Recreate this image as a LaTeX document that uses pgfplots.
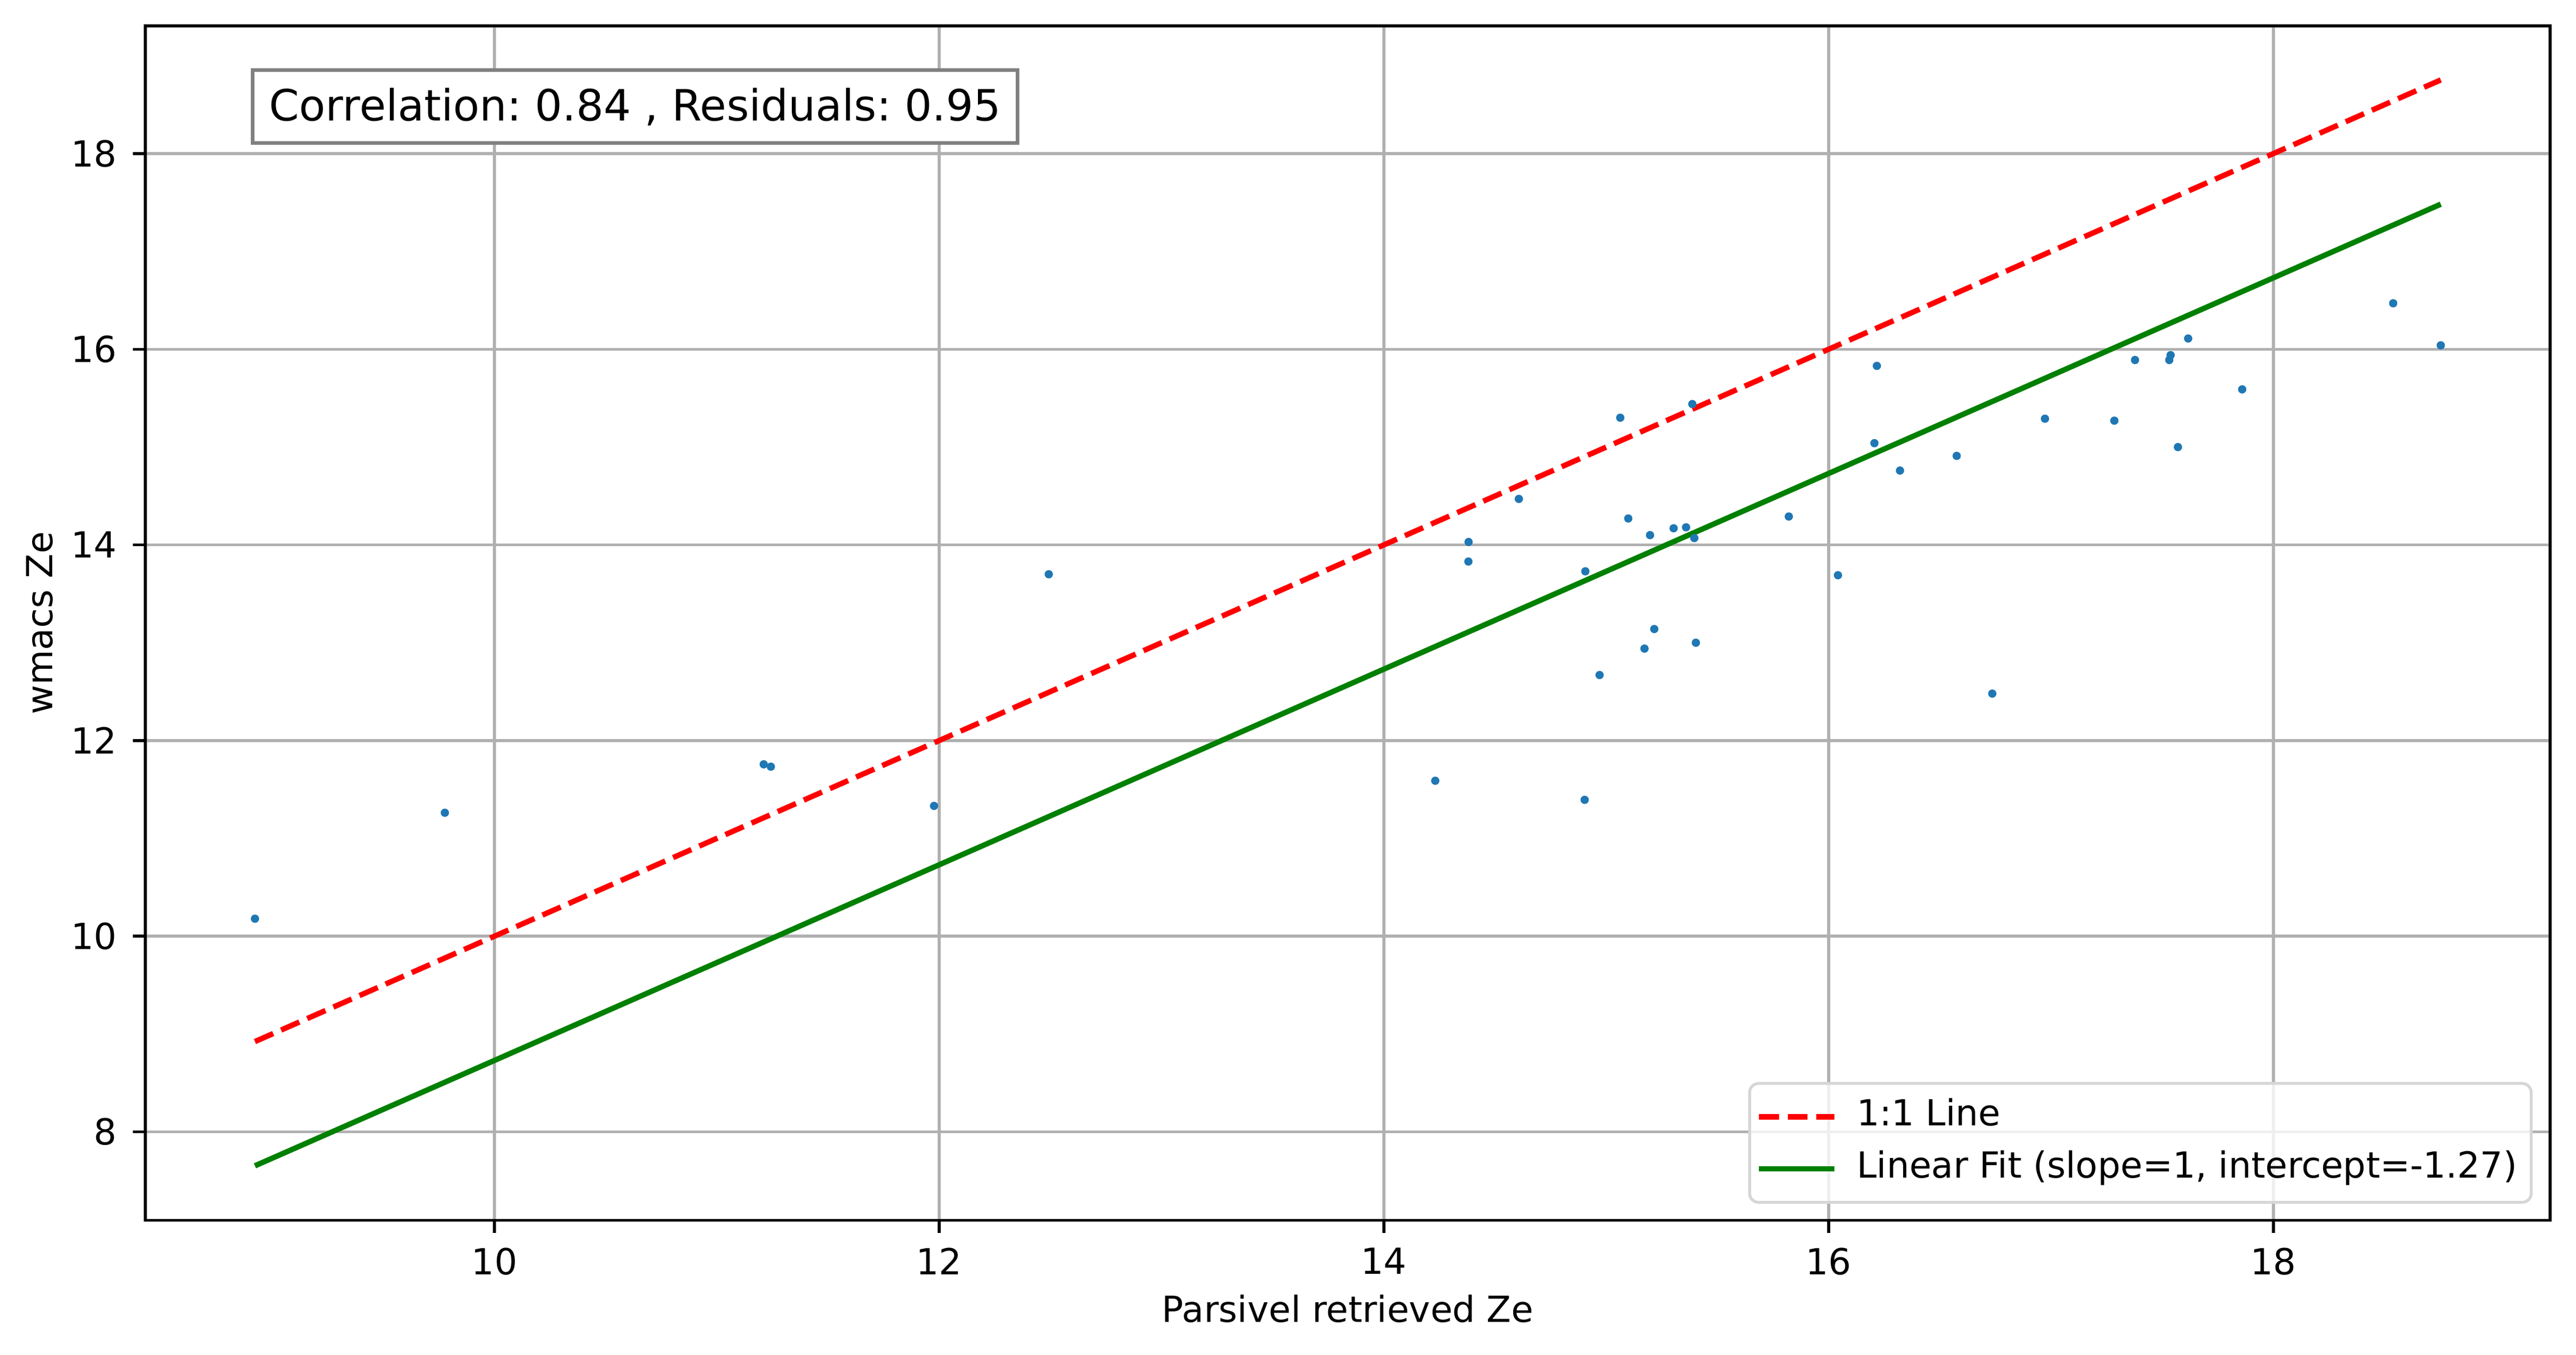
\documentclass[border=0pt]{standalone}
\usepackage{pgfplots}
\pgfplotsset{compat=1.18}
\usepackage{fontspec}
\setmainfont{DejaVu Sans}
\definecolor{c0}{HTML}{1F77B4}
\definecolor{gridc}{HTML}{B0B0B0}
\definecolor{legc}{HTML}{D6D6D6}
\definecolor{boxc}{HTML}{808080}
\definecolor{fitg}{HTML}{008000}
\pgfplotstableread{
x y
8.923 10.179
9.777 11.262
11.211 11.757
11.243 11.733
11.977 11.332
12.493 13.70
14.231 11.589
14.381 14.03
14.380 13.83
14.607 14.47
14.903 11.394
14.906 13.73
14.970 12.67
15.063 15.30
15.099 14.27
15.172 12.94
15.197 14.10
15.216 13.14
15.303 14.17
15.359 14.18
15.387 15.44
15.396 14.07
15.403 13.00
15.821 14.29
16.042 13.69
16.206 15.04
16.217 15.83
16.321 14.76
16.576 14.91
16.736 12.48
16.973 15.29
17.285 15.27
17.378 15.89
17.532 15.89
17.538 15.94
17.571 15.00
17.617 16.11
17.860 15.59
18.539 16.47
18.753 16.04
}\scatterdata
\begin{document}
\frenchspacing
\begin{tikzpicture}
\begin{axis}[
  scale only axis, width=669.6pt, height=332.6pt,
  xmin=8.43, xmax=19.245, ymin=7.095, ymax=19.306,
  xtick={10,12,14,16,18}, ytick={8,10,12,14,16,18},
  grid=major, major grid style={draw=gridc, line width=0.8pt},
  axis line style={line width=0.8pt},
  tick pos=left, tick align=outside, major tick length=3.5pt,
  every tick/.style={black, line width=0.8pt},
  /pgf/number format/assume math mode=true,
  tick label style={font=\fontsize{10}{12}\selectfont},
  xticklabel style={anchor=north, inner sep=0pt, yshift=-3.9pt},
  yticklabel style={anchor=east, inner sep=0pt, xshift=-4.3pt},
  xlabel={Parsivel retrieved Ze}, ylabel={wmacs Ze},
  label style={font=\fontsize{10}{12}\selectfont},
  xlabel style={at={(axis description cs:0.5,0)}, anchor=base, inner sep=0pt, yshift=-28.3pt},
  ylabel style={at={(axis description cs:0,0.5)}, anchor=base, inner sep=0pt, yshift=25.8pt},
  legend cell align=left,
  legend style={at={(0.9927,0.0139)}, anchor=south east, draw=legc, line width=0.8pt,
    rounded corners=2.5pt, fill=white, fill opacity=0.8, draw opacity=1, text opacity=1,
    inner xsep=1.9pt, inner ysep=2.3pt, row sep=0.5pt,
    font=\fontsize{10}{12}\selectfont,
    nodes={inner sep=2pt, text height=7.5pt, text depth=2.5pt},
    /tikz/every odd column/.append style={column sep=3.5pt}},
  legend image code/.code={\draw[#1] (0pt,0pt) -- (20.9pt,0pt);},
]
\addplot[only marks, mark=*, mark size=0.95pt, color=c0, forget plot] table[x=x, y=y] {\scatterdata};
\addplot[red, line width=1.5pt, dash pattern=on 5.55pt off 2.4pt] coordinates {(8.923,8.923) (18.753,18.753)};
\addlegendentry{1:1 Line}
\addplot[fitg, line width=1.5pt] coordinates {(8.923,7.653) (18.753,17.483)};
\addlegendentry{Linear Fit (slope=1, intercept=-1.27)}
\node[anchor=west, draw=boxc, fill=white, line width=1pt, font=\fontsize{12}{14}\selectfont,
  inner xsep=4.6pt, inner ysep=0pt, minimum height=20.3pt] at (rel axis cs:0.0439,0.9323)
  {Correlation: 0.84 , Residuals: 0.95};
\coordinate (sw) at (rel axis cs:0,0);
\coordinate (ne) at (rel axis cs:1,1);
\end{axis}
\pgfresetboundingbox
\path ([xshift=-40.47pt,yshift=-37.4pt]sw) rectangle ([xshift=7.2pt,yshift=7.2pt]ne);
\end{tikzpicture}
\end{document}
